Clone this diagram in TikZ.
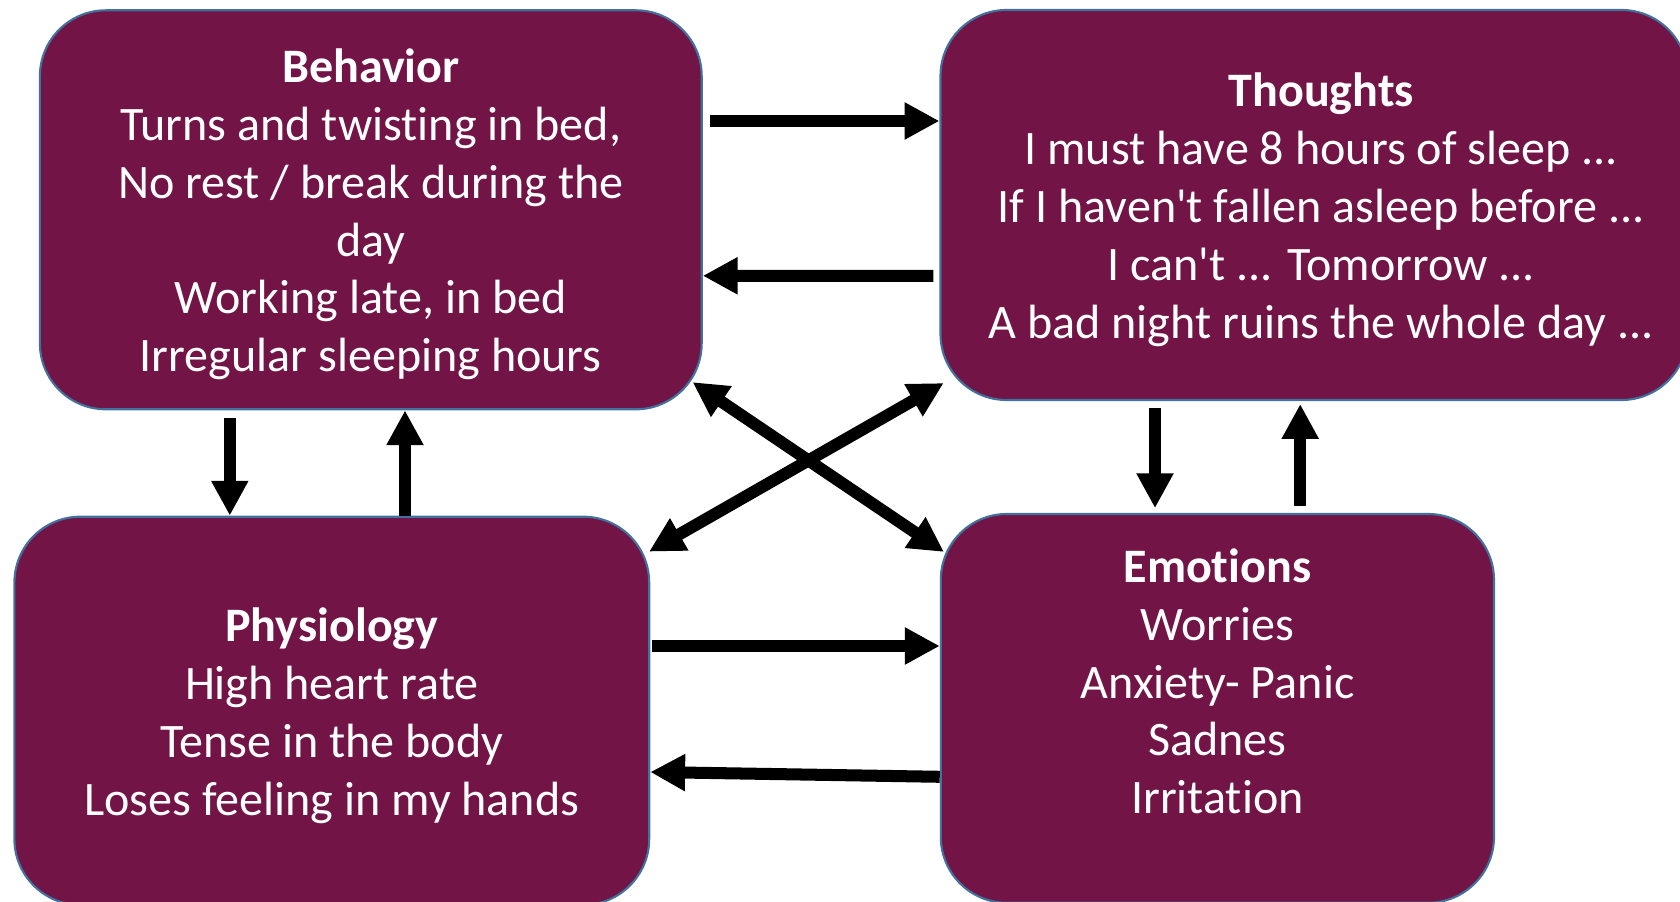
\documentclass[tikz,border=0pt]{standalone}
\usepackage{fontspec}
\setmainfont{Carlito}[Ligatures=NoCommon]
\usepackage{tikz}
\usetikzlibrary{arrows.meta, positioning, calc}
\definecolor{BoxPlum}{RGB}{114, 20, 70}
\definecolor{BoxEdge}{RGB}{65, 113, 156}

\begin{document}
\begin{tikzpicture}[
    font=\fontsize{22.8}{27.4}\selectfont,
    card/.style={draw=BoxEdge, line width=1pt, fill=BoxPlum, rounded corners=1.1cm},
    cardtext/.style={text=white, align=center},
    link/.style={-{Triangle[length=0.58cm, width=0.58cm]}, line width=5.7pt},
    twoway/.style={{Triangle[length=0.58cm, width=0.58cm]}-{Triangle[length=0.58cm, width=0.58cm]}, line width=5.7pt}
]
    \clip (0,0) rectangle (28,15.0167);

    % the four boxes
    \node[card, minimum width=11.03cm, minimum height=6.65cm] (beh) at (6.18,11.52) {};
    \node[card, minimum width=12.45cm, minimum height=6.5cm] (tho) at (21.9,11.6) {};
    \node[card, minimum width=10.58cm, minimum height=6.47cm] (phy) at (5.53,3.17) {};
    \node[card, minimum width=9.22cm, minimum height=6.48cm] (emo) at (20.29,3.21) {};

    \node[cardtext] (behtext) at ([yshift=-0.08cm]beh) {\textbf{Behavior}\\ Turns and twisting in bed,\\ No rest / break during the\\ day\\ Working late, in bed\\ Irregular sleeping hours};
    \node[cardtext] (thotext) at ([xshift=0.12cm, yshift=-0.08cm]tho) {\textbf{Thoughts}\\ I must have 8 hours of sleep ...\\ If I haven\textquotesingle t fallen asleep before ...\\ I can\textquotesingle t ... Tomorrow ...\\ A bad night ruins the whole day ...};
    \node[cardtext] (phytext) at ([yshift=-0.08cm]phy) {\textbf{Physiology}\\ High heart rate\\ Tense in the body\\ Loses feeling in my hands};
    \node[cardtext] (emotext) at ([yshift=0.45cm]emo) {\textbf{Emotions}\\ Worries\\ Anxiety- Panic\\ Sadnes\\ Irritation};

    % top pair
    \draw[link] ($(beh.east)+(0.12,1.48)$) -- ($(tho.west)+(0,1.4)$);
    \draw[link] ($(tho.west)+(-0.1,-1.18)$) -- ($(beh.east)+(0,-1.1)$);

    % left pair
    \draw[link] ([xshift=-2.35cm, yshift=-0.13cm]beh.south) coordinate (bp) -- (bp |- phy.north);
    \draw[link] ([xshift=1.22cm]phy.north) coordinate (pb) -- (pb |- beh.south);

    % right pair
    \draw[link] ([xshift=-2.65cm, yshift=-0.12cm]tho.south) coordinate (te) -- ([yshift=0.08cm]te |- emo.north);
    \draw[link] ([xshift=1.38cm, yshift=0.12cm]emo.north) coordinate (et) -- ([yshift=-0.05cm]et |- tho.south);

    % bottom pair
    \draw[link] ($(phy.east)+(0.03,1.08)$) -- ($(emo.west)+(0,1.04)$);
    \draw[link] ($(emo.west)+(0,-1.14)$) -- ($(phy.east)+(0,-1.02)$);

    % crossing
    \draw[twoway] ($(beh.south east)+(-0.17,0.47)$) -- ($(emo.north west)+(0.07,-0.65)$);
    \draw[twoway] ($(phy.north east)+(-0.02,-0.6)$) -- ($(tho.south west)+(0.07,0.3)$);
\end{tikzpicture}
\end{document}
